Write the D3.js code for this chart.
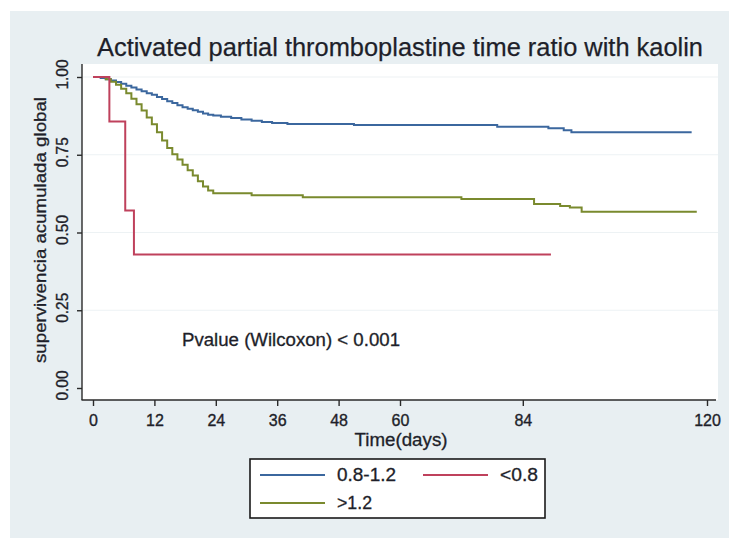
<!DOCTYPE html>
<html>
<head>
<meta charset="utf-8">
<script src="https://cdn.jsdelivr.net/npm/d3@7"></script>
<style>
  html, body { margin: 0; padding: 0; background: #ffffff; }
  svg { display: block; }
  text { font-family: "Liberation Sans", Arial, Helvetica, sans-serif; fill: #1e1f2a; }
</style>
</head>
<body>
<svg id="chart" width="729" height="538"></svg>
<script>
// ---- Data ----
const titleText = "Activated partial thromboplastine time ratio with kaolin";
const yLabel = "supervivencia acumulada global";
const xLabel = "Time(days)";
const pvalueText = "Pvalue (Wilcoxon) < 0.001";

const xTicks = [0, 12, 24, 36, 48, 60, 84, 120];
const yTicks = [0, 0.25, 0.5, 0.75, 1];
const yTickLabels = ["0.00", "0.25", "0.50", "0.75", "1.00"];

const groups = ["0.8-1.2", "<0.8", ">1.2"];
const groupColors = ["#3b679e", "#bf415c", "#7a8a2e"];

// Kaplan-Meier step curves: times (days) and survival after each step
const timesMid = [0, 1.5, 2.5, 3.5, 4.5, 5.5, 6.5, 7.5, 8.5, 9.5, 10.5, 11.5, 12.5, 13.5, 14.5, 15.5,
  16.5, 17.5, 18.5, 19.5, 20.5, 21.5, 22.5, 23.5, 25, 27, 29, 31, 33, 35, 38, 51, 79, 89, 92, 93.5, 117];
const survMid = [1.000, 0.997, 0.993, 0.989, 0.984, 0.978, 0.972, 0.966, 0.960, 0.954, 0.948, 0.943,
  0.936, 0.929, 0.922, 0.916, 0.909, 0.903, 0.898, 0.893, 0.888, 0.883, 0.879, 0.876, 0.872, 0.868,
  0.863, 0.859, 0.855, 0.852, 0.849, 0.846, 0.840, 0.835, 0.829, 0.822, 0.822];

const timesLow = [0, 3.2, 6.3, 8.0, 89.5];
const survLow = [1.000, 0.857, 0.571, 0.429, 0.429];

const timesHigh = [0, 2.5, 3.5, 4.5, 5.5, 6.5, 7.5, 8.5, 9.5, 10.5, 11.5, 12.5, 13.5, 14.5, 15.5,
  16.5, 17.5, 18.5, 19.5, 20.5, 21.5, 22.5, 23.5, 31, 41, 72, 86.2, 91.3, 93.2, 95.5, 118];
const survHigh = [1.000, 0.993, 0.985, 0.975, 0.962, 0.948, 0.930, 0.912, 0.892, 0.870, 0.848, 0.822,
  0.796, 0.772, 0.752, 0.735, 0.718, 0.700, 0.683, 0.665, 0.648, 0.635, 0.626, 0.620, 0.613, 0.608,
  0.592, 0.585, 0.580, 0.567, 0.567];

// ---- Drawing ----
const svg = d3.select("#chart");
const ink = "#1e1f2a";

// outer graph background
svg.append("rect").attr("x", 10).attr("y", 11).attr("width", 719).attr("height", 527)
  .attr("fill", "#e8eff2");

// plot region
const plot = { left: 82, right: 718, top: 64, bottom: 400 };
svg.append("rect").attr("x", plot.left).attr("y", plot.top)
  .attr("width", plot.right - plot.left).attr("height", plot.bottom - plot.top)
  .attr("fill", "#ffffff");

const x = d3.scaleLinear().domain([0, 120]).range([93, 707]);
const y = d3.scaleLinear().domain([0, 1]).range([388, 77]);

// gridlines
svg.append("g").selectAll("line").data(yTicks.filter(d => d > 0)).join("line")
  .attr("x1", plot.left + 1).attr("x2", plot.right)
  .attr("y1", d => y(d)).attr("y2", d => y(d))
  .attr("stroke", "#edf2f4").attr("stroke-width", 1.2);

// title
svg.append("text").attr("x", 400).attr("y", 56).attr("text-anchor", "middle")
  .attr("font-size", 26.5).attr("textLength", 606).attr("lengthAdjust", "spacingAndGlyphs")
  .attr("stroke", ink).attr("stroke-width", 0.25)
  .text(titleText);

// axes
const xAxis = d3.axisBottom(x).tickValues(xTicks).tickSize(6).tickPadding(9)
  .tickFormat(d3.format("d"));
const gx = svg.append("g").attr("transform", `translate(0,${plot.bottom})`).call(xAxis);
gx.select(".domain").remove();
gx.selectAll(".tick line").attr("stroke", "#2a2a2a").attr("stroke-width", 1.4);
gx.selectAll(".tick text").attr("font-size", 16).attr("fill", ink)
  .attr("stroke", ink).attr("stroke-width", 0.35)
  .attr("font-family", "Liberation Sans, Arial, sans-serif");
gx.append("line").attr("x1", plot.left - 0.5).attr("x2", plot.right - 2).attr("y1", 0).attr("y2", 0)
  .attr("stroke", "#2a2a2a").attr("stroke-width", 1.4);

const yAxis = d3.axisLeft(y).tickValues(yTicks).tickSize(5).tickFormat((d, i) => yTickLabels[i]);
const gy = svg.append("g").attr("transform", `translate(${plot.left},0)`).call(yAxis);
gy.select(".domain").remove();
gy.selectAll(".tick line").attr("stroke", "#2a2a2a").attr("stroke-width", 1.4);
gy.selectAll(".tick text")
  .attr("x", null).attr("dy", null)
  .attr("font-size", 16.5).attr("fill", ink)
  .attr("stroke", ink).attr("stroke-width", 0.35)
  .attr("font-family", "Liberation Sans, Arial, sans-serif")
  .attr("text-anchor", "middle")
  .attr("textLength", 30).attr("lengthAdjust", "spacingAndGlyphs")
  .attr("transform", "translate(-20,-3) rotate(-90)")
  .attr("y", 0).attr("dy", "0.35em");
gy.append("line").attr("x1", 0).attr("x2", 0).attr("y1", plot.top).attr("y2", plot.bottom)
  .attr("stroke", "#2a2a2a").attr("stroke-width", 1.4);

// axis titles
svg.append("text").attr("x", 401).attr("y", 446).attr("text-anchor", "middle")
  .attr("font-size", 17.5).attr("textLength", 93).attr("lengthAdjust", "spacingAndGlyphs")
  .attr("stroke", ink).attr("stroke-width", 0.3)
  .text(xLabel);
svg.append("text").attr("transform", "translate(46,230) rotate(-90)").attr("text-anchor", "middle")
  .attr("font-size", 17).attr("textLength", 266).attr("lengthAdjust", "spacingAndGlyphs")
  .attr("stroke", ink).attr("stroke-width", 0.3)
  .text(yLabel);

// curves
const stepLine = d3.line().x(d => x(d[0])).y(d => y(d[1])).curve(d3.curveStepAfter);
const series = [
  { data: d3.zip(timesMid, survMid), color: groupColors[0] },
  { data: d3.zip(timesHigh, survHigh), color: groupColors[2] },
  { data: d3.zip(timesLow, survLow), color: groupColors[1] }
];
svg.append("g").selectAll("path").data(series).join("path")
  .attr("d", d => stepLine(d.data))
  .attr("fill", "none").attr("stroke", d => d.color).attr("stroke-width", 2)
  .attr("stroke-linejoin", "miter");

// p-value annotation
svg.append("text").attr("x", 182).attr("y", 346).attr("font-size", 17.5)
  .attr("textLength", 218).attr("lengthAdjust", "spacingAndGlyphs")
  .attr("stroke", ink).attr("stroke-width", 0.3)
  .text(pvalueText);

// legend
const lg = svg.append("g");
lg.append("rect").attr("x", 250).attr("y", 459).attr("width", 295).attr("height", 59)
  .attr("fill", "#ffffff").attr("stroke", "#1a1a1a").attr("stroke-width", 1.6);
const legendItems = [
  { label: groups[0], color: groupColors[0], lx: 260, ly: 475, tw: 59 },
  { label: groups[1], color: groupColors[1], lx: 423, ly: 475, tw: 38 },
  { label: groups[2], color: groupColors[2], lx: 260, ly: 503, tw: 35 }
];
legendItems.forEach(it => {
  lg.append("line").attr("x1", it.lx).attr("x2", it.lx + 65).attr("y1", it.ly).attr("y2", it.ly)
    .attr("stroke", it.color).attr("stroke-width", 1.8);
  lg.append("text").attr("x", it.lx + 77).attr("y", it.ly).attr("dy", "0.36em")
    .attr("font-size", 17.5).attr("textLength", it.tw).attr("lengthAdjust", "spacingAndGlyphs")
    .attr("stroke", ink).attr("stroke-width", 0.3)
    .text(it.label);
});
</script>
</body>
</html>
